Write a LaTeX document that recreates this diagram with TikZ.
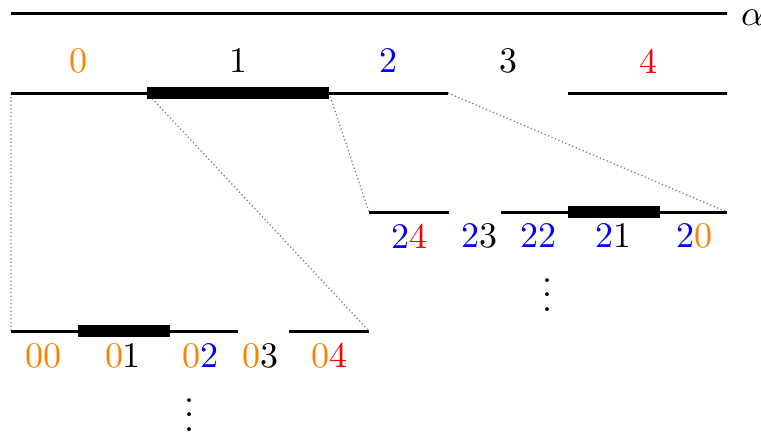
\documentclass[tikz,border=0pt]{standalone}
\usepackage{xcolor}
\newcommand{\dzero}{\textcolor{orange}{0}}
\newcommand{\dtwo}{\textcolor{blue}{2}}
\newcommand{\dfour}{\textcolor{red}{4}}
\begin{document}
\begin{tikzpicture}[x=0.4pt,y=-0.4pt,
        seg/.style={line width=1.2pt},
        bar/.style={line width=4.8pt},
        link/.style={gray,densely dotted,line width=0.5pt},
        lab/.style={scale=1.44}]
        \useasboundingbox (0,0) rectangle (761,435);
        % points of the three levels
        \foreach \n/\x in {0/11,1/147,2/329,3/448,4/568,5/727} \coordinate (a\n) at (\x,93);
        \foreach \n/\x in {0/369,1/449,2/501,3/568,4/660,5/727} \coordinate (c\n) at (\x,212);
        \foreach \n/\x in {0/11,1/78,2/170,3/238,4/289,5/369} \coordinate (b\n) at (\x,331);
        \draw[link] (a0) -- (b0) (a1) -- (b5) (a2) -- (c0) (a3) -- (c5);
        \draw[seg] (11,13) -- (727,13) node[lab,right,yshift=-1.2pt] (alpha) {$\alpha$};
        \draw[seg] (a0) -- (a3) (a4) -- (a5);
        \draw[bar] (a1) -- (a2);
        \draw[seg] (c0) -- (c1) (c2) -- (c5);
        \draw[bar] (c3) -- (c4);
        \draw[seg] (b0) -- (b3) (b4) -- (b5);
        \draw[bar] (b1) -- (b2);
        % labels
        \node[lab] (l0) at (79,61) {\dzero};
        \node[lab] (l1) at (238,61) {1};
        \node[lab] (l2) at (388,61) {\dtwo};
        \node[lab] (l3) at (508,61) {3};
        \node[lab] (l4) at (648,61) {\dfour};
        \node[lab] (l24) at (409,236) {\dtwo\dfour};
        \node[lab] (l23) at (479,236) {\dtwo3};
        \node[lab] (l22) at (538,236) {\dtwo\dtwo};
        \node[lab] (l21) at (613,236) {\dtwo1};
        \node[lab] (l20) at (694,236) {\dtwo\dzero};
        \node[lab] (l00) at (44,356) {\dzero\dzero};
        \node[lab] (l01) at (123,356) {\dzero1};
        \node[lab] (l02) at (200,356) {\dzero\dtwo};
        \node[lab] (l03) at (260,356) {\dzero3};
        \node[lab] (l04) at (329,356) {\dzero\dfour};
        \node[lab] (dr) at (548,284) {$\vdots$};
        \node[lab] (dl) at (190,404) {$\vdots$};
\end{tikzpicture}
\end{document}
